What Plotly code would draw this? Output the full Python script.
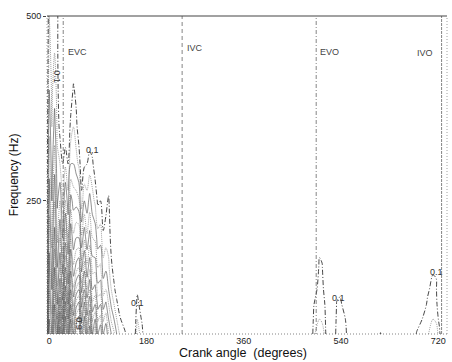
import plotly.graph_objects as go
import numpy as np

# frequency rows (Hz)
freqs = [70, 90, 110, 130, 160, 200, 250, 300, 350, 400, 450, 500, 530]

# crank-angle columns (degrees)
angles = [-5, 0, 5, 10, 15, 20, 25, 30, 35, 40, 45, 50, 55, 60, 65, 70, 75, 80, 85, 90,
          95, 100, 105, 110, 115, 120, 125, 130, 140, 150, 155, 163, 172, 180, 250, 400,
          482, 490, 500, 505, 510, 516, 525, 532, 538, 548, 560, 606, 613, 620,
          670, 680, 690, 700, 710, 716, 722, 728, 740]

# normalised energy, one profile (over freqs) per crank-angle column
z_cols = [
    [0, 0, 0, 0, 0, 0, 0, 0, 0, 0, 0, 0, 0],
    [.55, .50, .47, .45, .42, .38, .33, .28, .24, .20, .17, .15, .15],
    [.40, .36, .33, .30, .27, .24, .20, .17, .15, .14, .13, .13, .13],
    [.70, .65, .60, .55, .50, .42, .35, .28, .22, .18, .15, .13, .12],
    [.50, .45, .40, .36, .30, .24, .19, .16, .14, .13, .12, .12, .12],
    [.85, .75, .65, .55, .45, .35, .25, .15, .08, .04, .02, .02, .02],
    [.60, .50, .42, .35, .28, .20, .14, .10, .06, .03, .02, .02, .02],
    [.90, .82, .72, .62, .50, .38, .26, .14, .05, .02, .01, .01, .01],
    [.70, .60, .50, .42, .34, .25, .17, .10, .05, .02, .01, .01, .01],
    [1.0, .90, .80, .70, .58, .45, .32, .20, .12, .06, .02, .01, .01],
    [.80, .72, .64, .56, .46, .36, .28, .20, .15, .11, .05, .02, .01],
    [.95, .88, .78, .66, .52, .40, .28, .17, .12, .08, .03, .01, .01],
    [1.0, .92, .82, .70, .55, .40, .26, .14, .06, .02, .01, .01, .01],
    [.75, .68, .58, .48, .38, .26, .12, .05, .02, .01, 0, 0, 0],
    [.90, .82, .72, .60, .48, .34, .20, .09, .03, .01, 0, 0, 0],
    [.70, .62, .54, .45, .36, .26, .17, .10, .04, .01, 0, 0, 0],
    [.85, .76, .66, .55, .44, .32, .22, .12, .06, .02, 0, 0, 0],
    [.60, .54, .46, .40, .33, .25, .17, .11, .05, .02, 0, 0, 0],
    [.70, .60, .50, .42, .33, .24, .14, .07, .03, .01, 0, 0, 0],
    [.50, .44, .38, .32, .25, .17, .09, .04, .02, 0, 0, 0, 0],
    [.55, .47, .40, .33, .26, .18, .10, .04, .01, 0, 0, 0, 0],
    [.40, .34, .28, .23, .17, .11, .06, .02, 0, 0, 0, 0, 0],
    [.45, .38, .31, .25, .19, .13, .08, .03, 0, 0, 0, 0, 0],
    [.35, .30, .25, .20, .16, .13, .11, .04, 0, 0, 0, 0, 0],
    [.30, .24, .19, .15, .11, .08, .04, .01, 0, 0, 0, 0, 0],
    [.26, .20, .15, .11, .08, .04, .01, 0, 0, 0, 0, 0, 0],
    [.20, .15, .11, .08, .05, .02, 0, 0, 0, 0, 0, 0, 0],
    [.15, .11, .08, .05, .03, 0, 0, 0, 0, 0, 0, 0, 0],
    [.11, .07, .04, .02, 0, 0, 0, 0, 0, 0, 0, 0, 0],
    [.05, .03, .01, 0, 0, 0, 0, 0, 0, 0, 0, 0, 0],
    [0, 0, 0, 0, 0, 0, 0, 0, 0, 0, 0, 0, 0],
    [.18, .15, .12, .09, .05, 0, 0, 0, 0, 0, 0, 0, 0],
    [.12, .09, .06, .03, 0, 0, 0, 0, 0, 0, 0, 0, 0],
    [0, 0, 0, 0, 0, 0, 0, 0, 0, 0, 0, 0, 0],
    [0, 0, 0, 0, 0, 0, 0, 0, 0, 0, 0, 0, 0],
    [0, 0, 0, 0, 0, 0, 0, 0, 0, 0, 0, 0, 0],
    [0, 0, 0, 0, 0, 0, 0, 0, 0, 0, 0, 0, 0],
    [.14, .12, .10, .07, .03, 0, 0, 0, 0, 0, 0, 0, 0],
    [.19, .15, .135, .125, .11, .08, .03, 0, 0, 0, 0, 0, 0],
    [.18, .14, .13, .12, .105, .07, .02, 0, 0, 0, 0, 0, 0],
    [.14, .12, .10, .08, .05, .02, 0, 0, 0, 0, 0, 0, 0],
    [0, 0, 0, 0, 0, 0, 0, 0, 0, 0, 0, 0, 0],
    [0, 0, 0, 0, 0, 0, 0, 0, 0, 0, 0, 0, 0],
    [.14, .12, .105, .08, .04, 0, 0, 0, 0, 0, 0, 0, 0],
    [.15, .13, .11, .09, .05, 0, 0, 0, 0, 0, 0, 0, 0],
    [.12, .10, .08, .05, 0, 0, 0, 0, 0, 0, 0, 0, 0],
    [0, 0, 0, 0, 0, 0, 0, 0, 0, 0, 0, 0, 0],
    [0, 0, 0, 0, 0, 0, 0, 0, 0, 0, 0, 0, 0],
    [.11, 0, 0, 0, 0, 0, 0, 0, 0, 0, 0, 0, 0],
    [0, 0, 0, 0, 0, 0, 0, 0, 0, 0, 0, 0, 0],
    [0, 0, 0, 0, 0, 0, 0, 0, 0, 0, 0, 0, 0],
    [.11, .05, 0, 0, 0, 0, 0, 0, 0, 0, 0, 0, 0],
    [.14, .10, .06, 0, 0, 0, 0, 0, 0, 0, 0, 0, 0],
    [.14, .12, .11, .09, .05, 0, 0, 0, 0, 0, 0, 0, 0],
    [.19, .15, .13, .12, .09, .04, 0, 0, 0, 0, 0, 0, 0],
    [.18, .14, .12, .11, .09, .04, 0, 0, 0, 0, 0, 0, 0],
    [.12, .08, .04, 0, 0, 0, 0, 0, 0, 0, 0, 0, 0],
    [0, 0, 0, 0, 0, 0, 0, 0, 0, 0, 0, 0, 0],
    [0, 0, 0, 0, 0, 0, 0, 0, 0, 0, 0, 0, 0],
]

# valve events
event_names = ["EVC", "IVC", "EVO", "IVO"]
event_angles = [26, 246, 494, 726]
event_dash = ["1px,2px,4px,2px", "4px,3px", "1px,2px,4px,2px", "3px,1px"]
event_label_x = [52, 270, 518, 696]
event_label_y = [452, 457, 451, 450]

# contour level labels
lvl_text = ["0.1", "0,1", "0.1", "0.1", "0.1", "0.9"]
lvl_x = [15, 80, 163, 535, 716, 56]
lvl_y = [418, 319, 112, 119, 154, 84]
lvl_angle = [90, 0, 0, 0, 0, 90]

x_ticks = [0, 180, 360, 540, 720]
y_ticks = [250, 500]

z = np.array(z_cols).T

fig = go.Figure()
common = dict(x=angles, y=freqs, z=z, showscale=False, hoverinfo="skip")
fig.add_trace(go.Contour(**common,
                         contours=dict(start=0.15, end=0.95, size=0.1, coloring="none"),
                         line=dict(color="#777", width=0.7, dash="1px,1px", smoothing=0.9)))
fig.add_trace(go.Contour(**common,
                         contours=dict(start=0.2, end=0.9, size=0.1, coloring="none"),
                         line=dict(color="#444", width=0.6, dash="solid", smoothing=0.9)))
fig.add_trace(go.Contour(**common,
                         contours=dict(start=0.1, end=0.1, size=1, coloring="none"),
                         line=dict(color="#333", width=0.9, dash="5px,2px,1px,2px",
                                   smoothing=0.9)))

shapes = []
for a, d in zip(event_angles, event_dash):
    shapes.append(dict(type="line", xref="x", yref="paper", x0=a, x1=a, y0=0, y1=1,
                       line=dict(color="#666", width=0.8, dash=d)))
# frame
shapes.append(dict(type="line", xref="paper", yref="paper", x0=0, x1=1, y0=1, y1=1,
                   line=dict(color="#444", width=1.2)))
shapes.append(dict(type="line", xref="paper", yref="paper", x0=0, x1=1, y0=0, y1=0,
                   line=dict(color="#666", width=0.8, dash="1px,2px")))
shapes.append(dict(type="line", xref="paper", yref="paper", x0=0, x1=0, y0=0, y1=1,
                   line=dict(color="#888", width=0.8, dash="1px,2px")))
shapes.append(dict(type="line", xref="paper", yref="paper", x0=1, x1=1, y0=0, y1=1,
                   line=dict(color="#888", width=0.8, dash="1px,2px")))

ann = []
for n, x, y in zip(event_names, event_label_x, event_label_y):
    ann.append(dict(x=x, y=y, xref="x", yref="y", text=n, showarrow=False,
                    font=dict(size=9, color="#444")))
for t, x, y, a in zip(lvl_text, lvl_x, lvl_y, lvl_angle):
    ann.append(dict(x=x, y=y, xref="x", yref="y", text=t, showarrow=False, textangle=a,
                    font=dict(size=9, color="#333")))
ann.append(dict(x=0.49, y=-0.061, xref="paper", yref="paper", yanchor="middle",
                text="Crank angle  (degrees)",
                showarrow=False, font=dict(size=12.5, color="#111")))
ann.append(dict(x=-0.082, y=0.5, xref="paper", yref="paper", xanchor="center",
                text="Frequency (Hz)",
                showarrow=False, textangle=-90, font=dict(size=12, color="#111")))

fig.update_layout(
    width=452, height=362,
    margin=dict(l=47, r=5, t=16, b=28),
    paper_bgcolor="white", plot_bgcolor="white",
    font=dict(family="Liberation Sans, Arial, sans-serif", color="#222"),
    showlegend=False, shapes=shapes, annotations=ann,
    xaxis=dict(range=[-4, 736], tickvals=x_ticks, showgrid=False, zeroline=False,
               showline=False, ticks="", tickfont=dict(size=9)),
    yaxis=dict(range=[70, 500], tickvals=y_ticks, showgrid=False, zeroline=False,
               showline=False, ticks="outside", ticklen=3, tickcolor="#444",
               tickfont=dict(size=9)),
)

fig.write_html("out.html")
